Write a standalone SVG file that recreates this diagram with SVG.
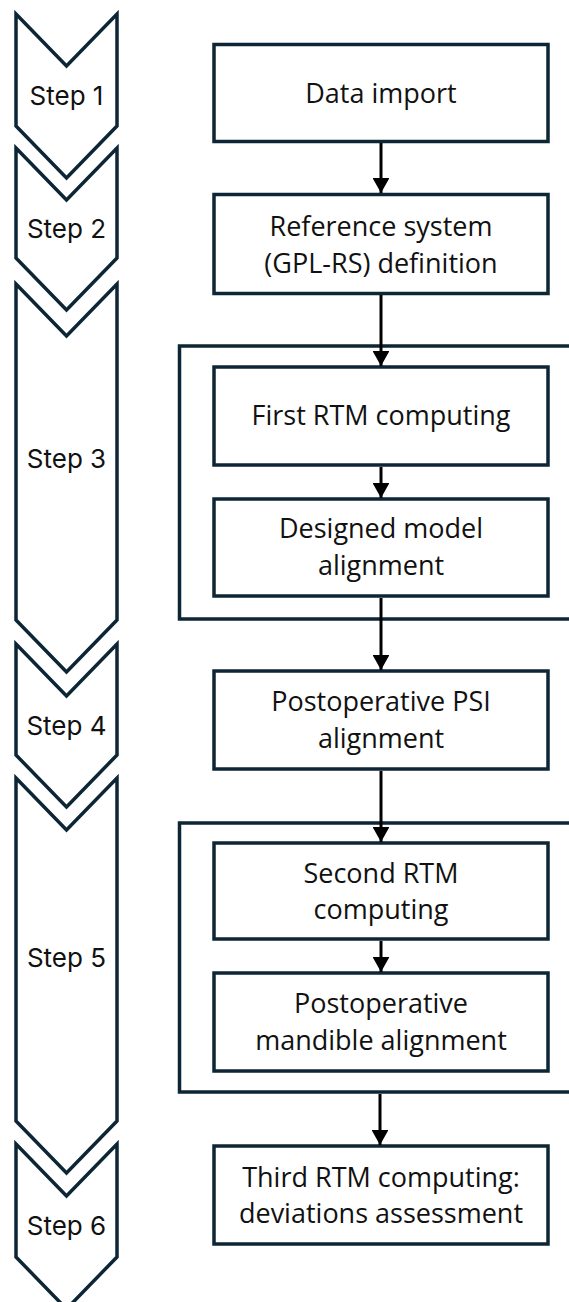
<svg xmlns="http://www.w3.org/2000/svg" width="569" height="1302" viewBox="0 0 569 1302">
<defs>
<style>
.chev{fill:#fff;stroke:#0c2636;stroke-width:3.5;stroke-linejoin:miter}
.box{fill:#fff;stroke:#0c2636;stroke-width:3.5}
.grp{fill:none;stroke:#0c2636;stroke-width:3.5}
.step{font-family:Inter,"Liberation Sans",sans-serif;font-size:26px;fill:#111;text-anchor:middle}
.lbl{font-family:"Open Sans","Noto Sans",sans-serif;font-size:27px;fill:#111;text-anchor:middle}
.conn{stroke:#000;stroke-width:3;fill:none}
</style>
<marker id="ah" markerWidth="5" markerHeight="5.6" refX="5" refY="2.8" orient="auto" markerUnits="strokeWidth"><path d="M0,0 L5,2.8 L0,5.6 Z" fill="#000"/></marker>
</defs>
<rect width="569" height="1302" fill="#fff"/>
<g id="steps">
<g id="step1"><path class="chev" d="M16,14 L66.5,66 L117,14 L117,126 L66.5,178 L16,126 Z"/><text class="step" x="66.5" y="105">Step 1</text></g>
<g id="step2"><path class="chev" d="M16,148 L66.5,200 L117,148 L117,258 L66.5,310 L16,258 Z"/><text class="step" x="66.5" y="238">Step 2</text></g>
<g id="step3"><path class="chev" d="M16,284 L66.5,336 L117,284 L117,620 L66.5,672 L16,620 Z"/><text class="step" x="66.5" y="468">Step 3</text></g>
<g id="step4"><path class="chev" d="M16,644 L66.5,696 L117,644 L117,755 L66.5,807 L16,755 Z"/><text class="step" x="66.5" y="735">Step 4</text></g>
<g id="step5"><path class="chev" d="M16,778 L66.5,830 L117,778 L117,1121 L66.5,1173 L16,1121 Z"/><text class="step" x="66.5" y="967">Step 5</text></g>
<g id="step6"><path class="chev" d="M16,1144 L66.5,1196 L117,1144 L117,1257 L66.5,1309 L16,1257 Z"/><text class="step" x="66.5" y="1235">Step 6</text></g>
</g>
<g id="group3"><rect class="grp" x="179.5" y="346" width="400" height="273"/></g>
<g id="group5"><rect class="grp" x="179.5" y="823" width="400" height="269"/></g>
<g id="n1"><rect class="box" x="214" y="44.5" width="334" height="97"/><text class="lbl" x="381" y="103">Data import</text></g>
<g id="n2"><rect class="box" x="214" y="194.5" width="334" height="99"/><text class="lbl" x="381" y="236">Reference system</text><text class="lbl" x="381" y="273">(GPL-RS) definition</text></g>
<g id="n3"><rect class="box" x="214" y="367" width="334" height="98"/><text class="lbl" x="381" y="425">First RTM computing</text></g>
<g id="n4"><rect class="box" x="214" y="499" width="334" height="97"/><text class="lbl" x="381" y="538">Designed model</text><text class="lbl" x="381" y="575">alignment</text></g>
<g id="n5"><rect class="box" x="214" y="671" width="334" height="98"/><text class="lbl" x="381" y="711">Postoperative PSI</text><text class="lbl" x="381" y="748">alignment</text></g>
<g id="n6"><rect class="box" x="214" y="843" width="334" height="96"/><text class="lbl" x="381" y="883">Second RTM</text><text class="lbl" x="381" y="919">computing</text></g>
<g id="n7"><rect class="box" x="214" y="973" width="334" height="98"/><text class="lbl" x="381" y="1013">Postoperative</text><text class="lbl" x="381" y="1050">mandible alignment</text></g>
<g id="n8"><rect class="box" x="214" y="1146" width="334" height="98"/><text class="lbl" x="381" y="1187">Third RTM computing:</text><text class="lbl" x="381" y="1223">deviations assessment</text></g>
<g id="connectors">
<path class="conn" d="M381,143 L381,193" marker-end="url(#ah)"/>
<path class="conn" d="M381,295 L381,366" marker-end="url(#ah)"/>
<path class="conn" d="M381,467 L381,498" marker-end="url(#ah)"/>
<path class="conn" d="M381,598 L381,670" marker-end="url(#ah)"/>
<path class="conn" d="M381,771 L381,842" marker-end="url(#ah)"/>
<path class="conn" d="M381,941 L381,972" marker-end="url(#ah)"/>
<path class="conn" d="M380,1094 L380,1145" marker-end="url(#ah)"/>
</g>
</svg>
